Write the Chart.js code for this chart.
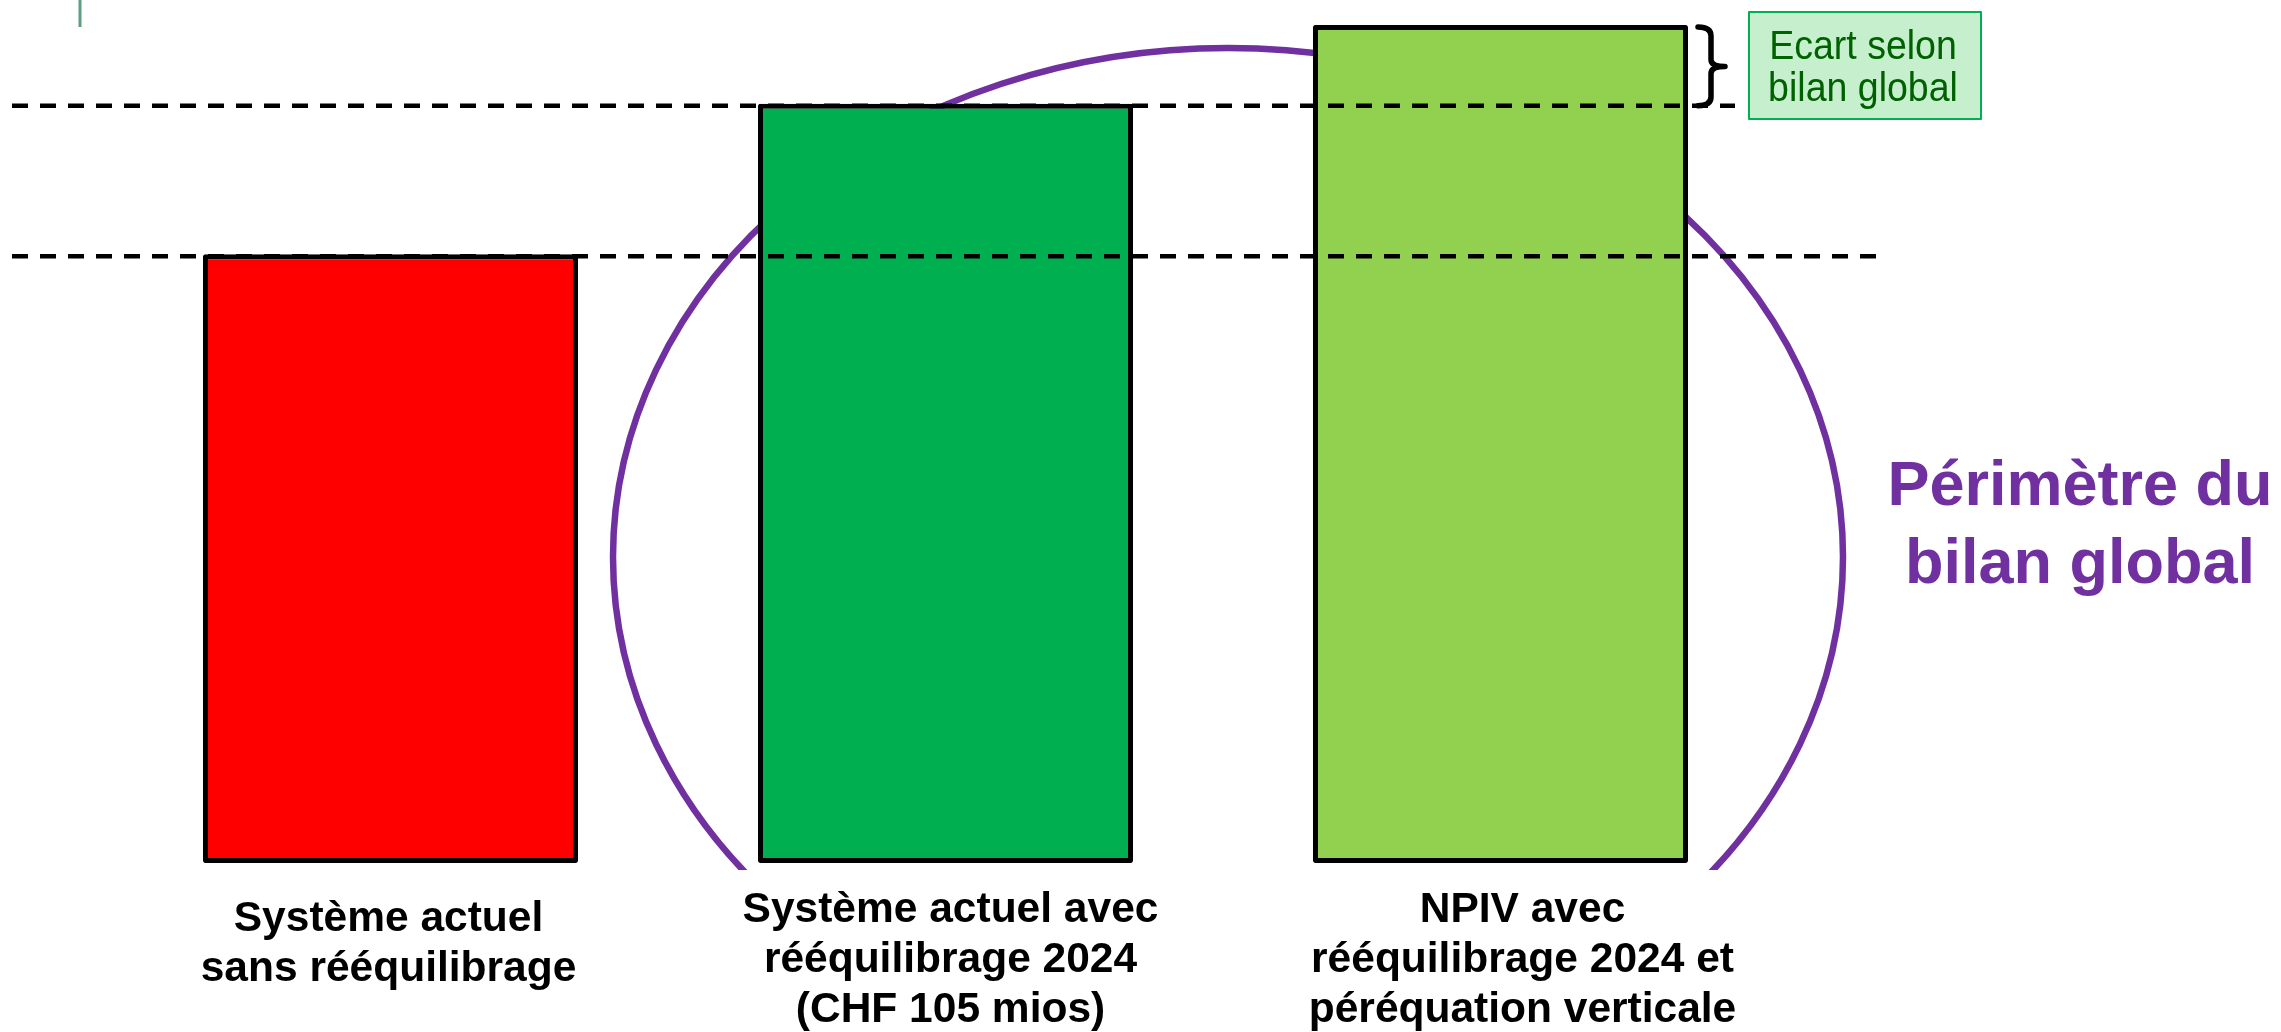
<!DOCTYPE html>
<html><head><meta charset="utf-8">
<script src="https://cdn.jsdelivr.net/npm/chart.js@4.4.1/dist/chart.umd.min.js"></script>
<style>html,body{margin:0;padding:0;background:#fff;overflow:hidden}canvas{display:block}</style>
</head><body>
<canvas id="c" width="2281" height="1032" style="width:2281px;height:1032px"></canvas>
<script>
// ---- data ----
const categories = [
  ["Système actuel", "sans rééquilibrage"],
  ["Système actuel avec", "rééquilibrage 2024", "(CHF 105 mios)"],
  ["NPIV avec", "rééquilibrage 2024 et", "péréquation verticale"]
];
const values = [425, 530, 585];          // CHF mios (estimated, relative heights)
const barColors = ["#ff0000", "#00b050", "#92d050"];
const annotationText = ["Ecart selon", "bilan global"];
const perimeterText = ["Périmètre du", "bilan global"];
const yMin = 0, yMax = 600;

const FONT = "'Liberation Sans', Arial, Helvetica, sans-serif";

const overlay = {
  id: 'overlay',
  beforeDatasetsDraw(chart) {
    const ctx = chart.ctx;
    ctx.save();
    ctx.beginPath(); ctx.rect(0, 0, chart.width, 870); ctx.clip();
    ctx.beginPath();
    ctx.ellipse(1228, 557, 615, 509, 0, 0, Math.PI * 2);
    ctx.strokeStyle = '#7030a0'; ctx.lineWidth = 6.5; ctx.stroke();
    ctx.restore();
  },
  afterDatasetsDraw(chart) {
    const ctx = chart.ctx, xs = chart.scales.x, ys = chart.scales.y;
    ctx.save();
    // top-left artifact line
    ctx.strokeStyle = '#5f9e80'; ctx.lineWidth = 3;
    ctx.beginPath(); ctx.moveTo(80, 0); ctx.lineTo(80, 27); ctx.stroke();

    // dashed reference lines
    const yRed = ys.getPixelForValue(values[0]) + 2;
    const yGreen = ys.getPixelForValue(values[1]) + 2;
    const yTop = ys.getPixelForValue(values[2]) + 2;
    ctx.setLineDash([16, 12]); ctx.lineWidth = 4.5; ctx.strokeStyle = '#000'; ctx.lineCap = 'butt';
    ctx.beginPath(); ctx.moveTo(12, yGreen); ctx.lineTo(1735, yGreen); ctx.stroke();
    ctx.beginPath(); ctx.moveTo(12, yRed); ctx.lineTo(1877, yRed); ctx.stroke();
    ctx.setLineDash([]);

    // curly bracket
    const bx = 1698, sx = 1711, tx = 1725, b0 = yTop, b1 = yGreen, bm = (b0 + b1) / 2;
    ctx.lineWidth = 5.5; ctx.lineJoin = 'round'; ctx.lineCap = 'round';
    ctx.beginPath();
    ctx.moveTo(bx, b0);
    ctx.quadraticCurveTo(sx, b0, sx, b0 + 9);
    ctx.lineTo(sx, bm - 7);
    ctx.quadraticCurveTo(sx, bm, tx, bm);
    ctx.quadraticCurveTo(sx, bm, sx, bm + 7);
    ctx.lineTo(sx, b1 - 9);
    ctx.quadraticCurveTo(sx, b1, bx, b1);
    ctx.stroke();

    // annotation box
    ctx.fillStyle = '#c6efce'; ctx.fillRect(1749, 12, 232, 107);
    ctx.strokeStyle = '#00b050'; ctx.lineWidth = 2; ctx.strokeRect(1749, 12, 232, 107);
    ctx.fillStyle = '#006100'; ctx.textAlign = 'center'; ctx.textBaseline = 'alphabetic';
    ctx.font = '41px ' + FONT;
    annotationText.forEach((t, i) => {
      ctx.save(); ctx.translate(1863, 59 + i * 42); ctx.scale(0.915, 1);
      ctx.fillText(t, 0, 0); ctx.restore();
    });

    // perimeter text
    ctx.fillStyle = '#7030a0'; ctx.font = 'bold 63px ' + FONT;
    perimeterText.forEach((t, i) => ctx.fillText(t, 2080, 505 + i * 78));

    // category labels
    const dx = [-2, 5, 22], firstBase = [931, 922, 922];
    ctx.fillStyle = '#000'; ctx.font = 'bold 42.5px ' + FONT;
    categories.forEach((lines, i) => {
      const cx = xs.getPixelForValue(i) + dx[i];
      lines.forEach((t, j) => ctx.fillText(t, cx, firstBase[i] + j * 50));
    });
    ctx.restore();
  }
};

new Chart(document.getElementById('c'), {
  type: 'bar',
  data: {
    labels: categories,
    datasets: [{
      data: values,
      backgroundColor: barColors,
      borderColor: '#000',
      borderWidth: 5,
      borderRadius: 2,
      borderSkipped: false,
      barPercentage: 1,
      categoryPercentage: 0.6757
    }]
  },
  options: {
    responsive: false,
    animation: false,
    layout: { padding: { left: 113, right: 503, top: 3.5, bottom: 169 } },
    scales: {
      x: { display: false },
      y: { display: false, min: yMin, max: yMax }
    },
    plugins: { legend: { display: false }, tooltip: { enabled: false } }
  },
  plugins: [overlay]
});
</script>
</body></html>
